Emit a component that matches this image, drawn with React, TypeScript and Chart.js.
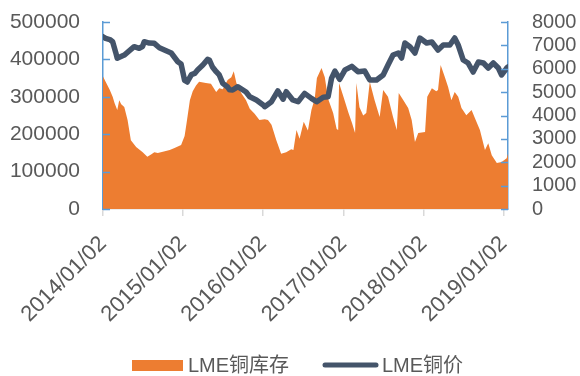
import { useEffect, useRef } from "react";
import { Chart, registerables } from "chart.js";

Chart.register(...registerables);

// Axis tick labels (first trading day of each year)
const tickLabels = ["2014/01/02", "2015/01/02", "2016/01/02", "2017/01/02", "2018/01/02", "2019/01/02"];

// LME copper inventory (tonnes)
const invDates = [
  "2014-01-02", "2014-01-14", "2014-02-02", "2014-02-15", "2014-02-24", "2014-03-08", "2014-03-17", "2014-03-26",
  "2014-04-09", "2014-04-24", "2014-05-09", "2014-06-02", "2014-07-02", "2014-07-23", "2014-08-09", "2014-08-24",
  "2014-09-09", "2014-10-02", "2014-11-02", "2014-11-24", "2014-12-24", "2015-01-09", "2015-01-18", "2015-02-02",
  "2015-02-15", "2015-03-02", "2015-03-16", "2015-04-16", "2015-05-09", "2015-06-02", "2015-06-16", "2015-07-02",
  "2015-07-24", "2015-08-10", "2015-08-21", "2015-09-02", "2015-09-24", "2015-10-16", "2015-11-02", "2015-11-24",
  "2015-12-16", "2016-01-09", "2016-01-24", "2016-02-09", "2016-03-02", "2016-03-24", "2016-04-16", "2016-05-09",
  "2016-05-19", "2016-06-02", "2016-06-16", "2016-07-05", "2016-07-24", "2016-08-09", "2016-08-24", "2016-09-03",
  "2016-09-24", "2016-10-09", "2016-10-24", "2016-11-16", "2016-12-02", "2016-12-09", "2016-12-13", "2017-01-02",
  "2017-01-24", "2017-02-10", "2017-02-24", "2017-03-02", "2017-03-16", "2017-04-02", "2017-04-16", "2017-05-02",
  "2017-05-24", "2017-06-16", "2017-07-02", "2017-07-24", "2017-08-16", "2017-09-02", "2017-09-11", "2017-10-02",
  "2017-10-24", "2017-11-09", "2017-11-24", "2017-12-09", "2018-01-09", "2018-01-19", "2018-02-09", "2018-03-01",
  "2018-03-09", "2018-03-21", "2018-04-09", "2018-04-24", "2018-05-09", "2018-05-24", "2018-06-09", "2018-06-24",
  "2018-07-16", "2018-08-09", "2018-08-24", "2018-09-16", "2018-10-09", "2018-10-24", "2018-11-09", "2018-12-02",
  "2018-12-24", "2019-01-16", "2019-01-22",
];
const invValues = [
  354000, 340000, 318000, 300000, 283000, 265000, 291000, 280000,
  273000, 238000, 184000, 166000, 152000, 140000, 146000, 152000,
  150000, 153000, 158000, 163000, 171000, 195000, 230000, 291000,
  315000, 330000, 340000, 337000, 335000, 313000, 323000, 320000,
  345000, 352000, 368000, 337000, 310000, 291000, 268000, 255000,
  238000, 240000, 238000, 225000, 184000, 148000, 152000, 160000,
  158000, 211000, 188000, 233000, 210000, 265000, 295000, 350000,
  377000, 352000, 295000, 257000, 214000, 211000, 337000, 300000,
  259000, 230000, 203000, 337000, 272000, 250000, 257000, 340000,
  291000, 246000, 318000, 300000, 246000, 211000, 310000, 291000,
  270000, 238000, 179000, 203000, 206000, 300000, 323000, 315000,
  318000, 385000, 353000, 326000, 291000, 313000, 300000, 270000,
  251000, 265000, 243000, 211000, 158000, 176000, 144000, 123000,
  126000, 136000, 148000,
];

// LME copper price (USD/t)
const priceDates = [
  "2014-01-02", "2014-01-14", "2014-02-02", "2014-02-15", "2014-03-01", "2014-03-08", "2014-03-20", "2014-04-09",
  "2014-04-30", "2014-05-24", "2014-06-16", "2014-07-01", "2014-07-09", "2014-08-01", "2014-08-24", "2014-09-16",
  "2014-10-09", "2014-11-09", "2014-12-09", "2014-12-24", "2015-01-09", "2015-01-21", "2015-02-09", "2015-02-24",
  "2015-03-09", "2015-04-02", "2015-04-24", "2015-05-02", "2015-05-16", "2015-06-02", "2015-06-16", "2015-07-02",
  "2015-07-24", "2015-08-02", "2015-08-16", "2015-09-09", "2015-10-02", "2015-10-16", "2015-11-02", "2015-12-02",
  "2016-01-02", "2016-01-09", "2016-02-09", "2016-03-09", "2016-04-02", "2016-04-16", "2016-05-16", "2016-06-09",
  "2016-07-09", "2016-08-09", "2016-09-02", "2016-10-02", "2016-10-24", "2016-11-09", "2016-11-24", "2016-12-16",
  "2017-01-09", "2017-02-09", "2017-03-09", "2017-04-09", "2017-05-02", "2017-06-02", "2017-07-02", "2017-07-24",
  "2017-08-16", "2017-09-09", "2017-09-24", "2017-10-09", "2017-11-02", "2017-11-24", "2017-12-16", "2018-01-16",
  "2018-02-09", "2018-03-09", "2018-04-02", "2018-05-02", "2018-05-24", "2018-06-09", "2018-07-02", "2018-07-24",
  "2018-08-16", "2018-09-09", "2018-10-02", "2018-10-24", "2018-11-16", "2018-12-09", "2018-12-24", "2019-01-16",
  "2019-01-22",
];
const priceValues = [
  7371, 7300, 7250, 7157, 6700, 6450, 6500, 6588,
  6750, 6943, 6875, 6950, 7157, 7100, 7088, 6900,
  6802, 6674, 6300, 6200, 5500, 5433, 5750, 5800,
  5946, 6160, 6400, 6374, 6075, 5874, 5733, 5376,
  5219, 5100, 5091, 5232, 5091, 5005, 4804, 4663,
  4449, 4377, 4590, 5050, 4700, 5018, 4663, 4590,
  4948, 4734, 4590, 4780, 4800, 5600, 5900, 5550,
  5950, 6100, 5874, 5900, 5519, 5519, 5733, 6160,
  6588, 6674, 6460, 7100, 6930, 6674, 7315, 7100,
  7144, 6802, 7016, 7016, 7315, 7016, 6374, 6246,
  5860, 6289, 6246, 6032, 6246, 6032, 5733, 6032,
  6075,
];

const seriesNames = ["LME铜库存", "LME铜价"];

const ORANGE = "#ED7D31";
const SLATE = "#44546A";
const AXIS_BLUE = "#5B9BD5";
const TEXT = "#595959";
const FONT = '"Liberation Sans", "Noto Sans CJK SC", sans-serif';

const BASE = Date.UTC(2014, 0, 2);
const dayOf = (s: string) => {
  const [y, m, d] = s.split(/[-/]/).map(Number);
  return (Date.UTC(y, m - 1, d) - BASE) / 86400000;
};
const tickPositions = tickLabels.map(dayOf);

// Inward tick marks on both value axes plus the bottom legend
const decorPlugin = {
  id: "decor",
  afterDraw(chart: any) {
    const ctx = chart.ctx as CanvasRenderingContext2D;
    const { left, right } = chart.chartArea;
    const yl = chart.scales.y;
    const yr = chart.scales.y1;
    ctx.save();
    ctx.strokeStyle = AXIS_BLUE;
    ctx.lineWidth = 1.5;
    ctx.beginPath();
    yl.ticks.forEach((t: any) => {
      const py = Math.round(yl.getPixelForValue(t.value)) + 0.5;
      ctx.moveTo(left, py);
      ctx.lineTo(left + 7, py);
    });
    yr.ticks.forEach((t: any) => {
      const py = Math.round(yr.getPixelForValue(t.value)) + 0.5;
      ctx.moveTo(right, py);
      ctx.lineTo(right - 7, py);
    });
    ctx.stroke();

    // legend
    const ly = 366;
    ctx.font = `20px ${FONT}`;
    ctx.textBaseline = "middle";
    ctx.textAlign = "left";
    ctx.fillStyle = ORANGE;
    ctx.fillRect(132, ly - 6, 51, 11);
    ctx.fillStyle = TEXT;
    ctx.fillText(seriesNames[0], 188, ly);
    ctx.strokeStyle = SLATE;
    ctx.lineWidth = 5;
    ctx.lineCap = "round";
    ctx.beginPath();
    ctx.moveTo(325, ly - 1);
    ctx.lineTo(376, ly - 1);
    ctx.stroke();
    ctx.fillText(seriesNames[1], 382, ly);
    ctx.restore();
  },
};

// value axes: fixed width, no extra vertical padding from their labels
const fixWidth = (w: number) => (s: any) => {
  s.width = w;
  s.paddingTop = 0;
  s.paddingBottom = 0;
};

export default function App() {
  const ref = useRef<HTMLCanvasElement | null>(null);

  useEffect(() => {
    if (!ref.current) return;
    const chart = new Chart(ref.current, {
      type: "line",
      data: {
        datasets: [
          {
            label: seriesNames[0],
            data: invDates.map((d, i) => ({ x: dayOf(d), y: invValues[i] })),
            yAxisID: "y",
            backgroundColor: ORANGE,
            borderColor: ORANGE,
            borderWidth: 0,
            fill: "origin",
            pointRadius: 0,
            tension: 0,
            order: 1,
          },
          {
            label: seriesNames[1],
            data: priceDates.map((d, i) => ({ x: dayOf(d), y: priceValues[i] })),
            yAxisID: "y1",
            borderColor: SLATE,
            backgroundColor: SLATE,
            borderWidth: 5.5,
            borderJoinStyle: "round",
            borderCapStyle: "round",
            fill: false,
            pointRadius: 0,
            tension: 0,
            order: 0,
          },
        ],
      },
      options: {
        responsive: false,
        animation: false,
        layout: { padding: { top: 22, left: 0, right: 0, bottom: 0 } },
        plugins: { legend: { display: false }, tooltip: { enabled: false } },
        scales: {
          x: {
            type: "linear",
            min: 0,
            max: dayOf(invDates[invDates.length - 1]),
            z: 1,
            afterBuildTicks: (s: any) => {
              s.ticks = tickPositions.map((v) => ({ value: v }));
            },
            afterFit: (s: any) => {
              s.height = 167;
            },
            grid: {
              drawOnChartArea: false,
              drawTicks: true,
              tickLength: 7,
              color: "#D9D9D9",
              lineWidth: 1.5,
            },
            border: { color: "#D9D9D9", width: 1.5 },
            ticks: {
              autoSkip: false,
              maxRotation: 45,
              minRotation: 45,
              padding: 15,
              color: TEXT,
              font: { family: FONT, size: 22 },
              callback: (v: any) => {
                const i = tickPositions.indexOf(Number(v));
                return i >= 0 ? tickLabels[i] : "";
              },
            },
          },
          y: {
            position: "left",
            min: 0,
            max: 500000,
            z: 1,
            afterFit: fixWidth(103),
            grid: { drawOnChartArea: false, drawTicks: false },
            border: { color: AXIS_BLUE, width: 1.5 },
            ticks: {
              stepSize: 100000,
              autoSkip: false,
              padding: 23,
              color: TEXT,
              font: { family: FONT, size: 21 },
              callback: (v: any) => String(v),
            },
          },
          y1: {
            position: "right",
            min: 0,
            max: 8000,
            z: 1,
            afterFit: fixWidth(72),
            grid: { drawOnChartArea: false, drawTicks: false },
            border: { color: AXIS_BLUE, width: 1.5 },
            ticks: {
              stepSize: 1000,
              autoSkip: false,
              padding: 24,
              color: TEXT,
              font: { family: FONT, size: 20 },
              callback: (v: any) => String(v),
            },
          },
        },
      },
      plugins: [decorPlugin],
    } as any);
    return () => chart.destroy();
  }, []);

  return (
    <div style={{ position: "fixed", left: 0, top: 0, width: 580, height: 376, background: "#fff" }}>
      <canvas ref={ref} width={580} height={376} style={{ display: "block" }} />
    </div>
  );
}
